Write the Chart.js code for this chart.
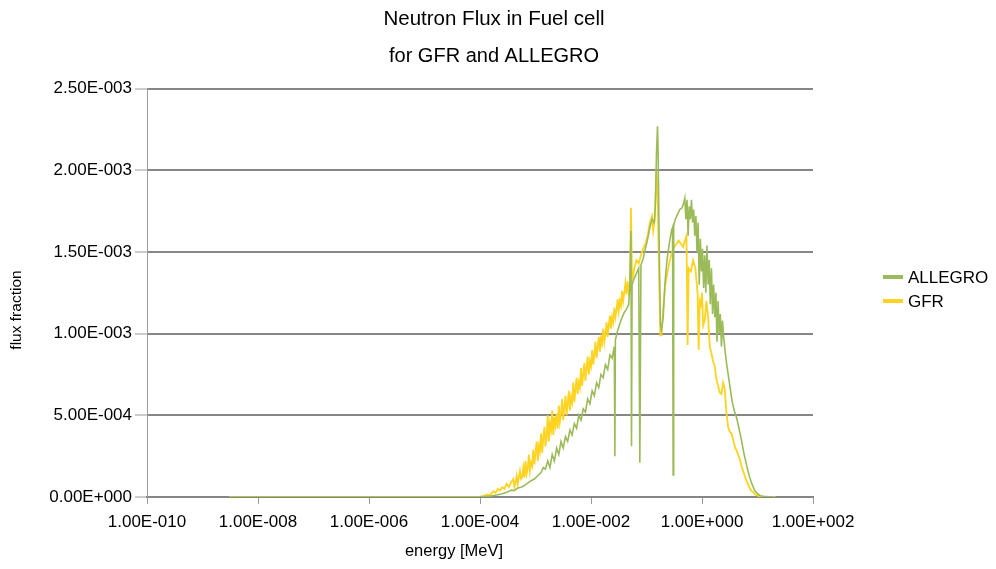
<!DOCTYPE html>
<html>
<head>
<meta charset="utf-8">
<script src="https://cdn.jsdelivr.net/npm/chart.js@4/dist/chart.umd.min.js"></script>
<style>
  body { margin: 0; background: #fff; }
  .chart-container { position: relative; width: 996px; height: 569px; }
</style>
</head>
<body>
<div class="chart-container"><canvas id="chart"></canvas></div>
<script>
// energy in MeV, flux fraction
const allegroEnergy = [
  3.02e-9, 1e-6, 6.31e-5, 1e-4, 1.58e-4, 2.00e-4, 2.51e-4, 3.16e-4, 3.63e-4, 4.17e-4,
  4.79e-4, 5.50e-4, 6.31e-4, 7.24e-4, 8.32e-4, 9.55e-4, 1.10e-3, 1.26e-3, 1.38e-3, 1.51e-3,
  1.66e-3, 1.82e-3, 2.00e-3, 2.19e-3, 2.40e-3, 2.63e-3, 2.88e-3, 3.16e-3, 3.47e-3, 3.80e-3,
  4.17e-3, 4.57e-3, 5.01e-3, 5.50e-3, 6.03e-3, 6.61e-3, 7.24e-3, 7.94e-3, 8.71e-3, 9.55e-3,
  1.05e-2, 1.15e-2, 1.26e-2, 1.38e-2, 1.51e-2, 1.66e-2, 1.82e-2, 2.00e-2, 2.19e-2, 2.40e-2,
  2.63e-2, 2.69e-2, 2.75e-2, 3.02e-2, 3.31e-2, 3.63e-2, 3.98e-2, 4.37e-2, 4.79e-2, 5.01e-2,
  5.25e-2, 5.37e-2, 5.50e-2, 6.03e-2, 6.61e-2, 7.24e-2, 7.59e-2, 7.94e-2, 8.71e-2, 9.55e-2,
  0.105, 0.115, 0.126, 0.138, 0.145, 0.151, 0.158, 0.162, 0.170, 0.178,
  0.186, 0.200, 0.214, 0.234, 0.257, 0.282, 0.295, 0.302, 0.309, 0.331,
  0.363, 0.398, 0.437, 0.468, 0.490, 0.513, 0.537, 0.562, 0.589, 0.617,
  0.646, 0.676, 0.708, 0.741, 0.776, 0.813, 0.851, 0.891, 0.933, 0.977,
  1.02, 1.07, 1.12, 1.17, 1.23, 1.29, 1.35, 1.41, 1.48, 1.55,
  1.62, 1.70, 1.78, 1.86, 1.95, 2.04, 2.14, 2.24, 2.34, 2.45,
  2.63, 2.82, 3.02, 3.24, 3.47, 3.80, 4.17, 4.57, 5.13, 5.75,
  6.31, 7.08, 7.94, 8.91, 10.0, 11.2, 14.1, 20.0
];
const allegroFlux = [
  0, 0, 0, 0.000001, 0.000006, 0.000012, 0.00002, 0.00003, 0.000042, 0.00004,
  0.000055, 0.00006, 0.00007, 0.000085, 0.0001, 0.00011, 0.00013, 0.00015, 0.00018, 0.00017,
  0.00022, 0.00018, 0.00026, 0.00022, 0.0003, 0.00026, 0.00034, 0.0003, 0.00037, 0.00034,
  0.00041, 0.00038, 0.00045, 0.00042, 0.0005, 0.00047, 0.00054, 0.00052, 0.0006, 0.00057,
  0.00065, 0.00062, 0.0007, 0.00067, 0.00075, 0.00073, 0.00081, 0.00078, 0.00087, 0.00085,
  0.00092, 0.00025, 0.00096, 0.00102, 0.00106, 0.0011, 0.00113, 0.00115, 0.00118, 0.0013,
  0.00163, 0.00031, 0.0013, 0.00134, 0.00137, 0.0014, 0.00021, 0.00142, 0.00146, 0.00152,
  0.00158, 0.00165, 0.0017, 0.00168, 0.0018, 0.0021, 0.00227, 0.0021, 0.0015, 0.00105,
  0.00102, 0.0011, 0.0013, 0.00145, 0.00155, 0.00163, 0.00165, 0.000135, 0.00166, 0.0017,
  0.00173, 0.00176, 0.00177, 0.0018, 0.00183, 0.0017, 0.00182, 0.0016, 0.00178, 0.0017,
  0.00182, 0.00168, 0.00176, 0.0016, 0.00172, 0.0015, 0.00168, 0.0013, 0.00158, 0.00138,
  0.00152, 0.00128, 0.00148, 0.00125, 0.00154, 0.0013, 0.00145, 0.00118, 0.0014, 0.00112,
  0.0013, 0.0011, 0.00125, 0.00095, 0.0012, 0.001, 0.00112, 0.00092, 0.00108, 0.00098,
  0.00088, 0.0008, 0.00073, 0.00066, 0.00059, 0.00053, 0.00049, 0.00043, 0.00035, 0.00026,
  0.0002, 0.00013, 0.00008, 0.00004, 0.00002, 0.000008, 0.000002, 0
];

const gfrEnergy = [
  3.02e-9, 1e-6, 5.01e-5, 1e-4, 1.15e-4, 1.32e-4, 1.51e-4, 1.74e-4, 1.91e-4, 2.09e-4,
  2.29e-4, 2.51e-4, 2.75e-4, 3.02e-4, 3.31e-4, 3.63e-4,
  3.98e-4, 4.17e-4, 4.37e-4, 4.57e-4, 4.79e-4, 5.01e-4, 5.25e-4, 5.50e-4, 5.75e-4, 6.03e-4,
  6.31e-4, 6.61e-4, 6.92e-4, 7.24e-4, 7.59e-4, 7.94e-4, 8.32e-4, 8.71e-4, 9.12e-4, 9.55e-4,
  1.00e-3, 1.05e-3, 1.10e-3, 1.15e-3, 1.20e-3, 1.26e-3, 1.32e-3, 1.38e-3, 1.45e-3, 1.51e-3,
  1.58e-3, 1.66e-3, 1.74e-3, 1.82e-3, 1.91e-3, 2.00e-3, 2.09e-3, 2.19e-3, 2.29e-3, 2.40e-3,
  2.51e-3, 2.63e-3, 2.75e-3, 2.88e-3, 3.02e-3, 3.16e-3, 3.31e-3, 3.47e-3, 3.63e-3, 3.80e-3,
  3.98e-3, 4.17e-3, 4.37e-3, 4.57e-3, 4.79e-3, 5.01e-3, 5.25e-3, 5.50e-3, 5.75e-3, 6.03e-3,
  6.31e-3, 6.61e-3, 6.92e-3, 7.24e-3, 7.59e-3, 7.94e-3, 8.32e-3, 8.71e-3, 9.12e-3, 9.55e-3,
  1.00e-2, 1.05e-2, 1.10e-2, 1.15e-2, 1.20e-2, 1.26e-2, 1.32e-2, 1.38e-2, 1.45e-2, 1.51e-2,
  1.58e-2, 1.66e-2, 1.74e-2, 1.82e-2, 1.91e-2, 2.00e-2, 2.09e-2, 2.19e-2, 2.29e-2, 2.40e-2,
  2.51e-2, 2.63e-2, 2.75e-2, 2.88e-2, 3.02e-2, 3.16e-2, 3.31e-2, 3.47e-2, 3.63e-2, 3.80e-2,
  3.98e-2, 4.17e-2, 4.37e-2, 4.57e-2, 4.79e-2, 5.01e-2,
  5.25e-2, 5.50e-2, 6.03e-2, 6.61e-2,
  7.24e-2, 7.94e-2, 8.71e-2, 9.55e-2, 0.105, 0.115, 0.126, 0.132, 0.141, 0.148,
  0.151, 0.158, 0.170, 0.178, 0.186, 0.200, 0.219, 0.240, 0.263, 0.288,
  0.316, 0.347, 0.380, 0.417, 0.457, 0.501, 0.525, 0.550, 0.575, 0.631,
  0.692, 0.759, 0.832, 0.871, 0.912, 0.955, 1.00, 1.05, 1.12, 1.20,
  1.29, 1.38, 1.48, 1.58, 1.70, 1.82, 1.95, 2.09, 2.24, 2.40,
  2.57, 2.75, 2.95, 3.16, 3.39, 3.63, 3.98, 4.37, 4.79, 5.25,
  5.75, 6.31, 6.92, 7.59, 8.32, 9.12, 10.5, 12.6, 20.9
];
const gfrFlux = [
  0, 0, 0, 0.000002, 0.000006, 0.000015, 0.00001, 0.000035, 0.000025, 0.00005,
  0.00004, 0.00006, 0.00005, 0.00008, 0.00006, 0.00009,
  0.00011, 0.00006, 0.00009, 0.00013, 0.00008, 0.00012, 0.00016, 0.00011, 0.00012, 0.00018,
  0.00012, 0.00022, 0.00014, 0.00017, 0.00026, 0.00016, 0.00021, 0.00019, 0.00029, 0.0002,
  0.00027, 0.00034, 0.00022, 0.00031, 0.00028, 0.00039, 0.00027, 0.00036, 0.00043, 0.00031,
  0.00036, 0.0005, 0.00034, 0.00045, 0.00041, 0.00053, 0.00038, 0.00049, 0.00044, 0.00051,
  0.00042, 0.00056, 0.00046, 0.00051, 0.0006, 0.00047, 0.00055, 0.00062, 0.0005, 0.00057,
  0.00065, 0.00053, 0.00061, 0.00058, 0.0007, 0.00058, 0.00066, 0.00073, 0.00063, 0.0007,
  0.00067, 0.00079, 0.00068, 0.00075, 0.00082, 0.00071, 0.00079, 0.00086, 0.00075, 0.00083,
  0.0008, 0.0009, 0.00081, 0.00087, 0.00095, 0.00085, 0.00092, 0.00098, 0.00089, 0.00097,
  0.00094, 0.00103, 0.00095, 0.001, 0.00107, 0.00098, 0.00105, 0.00111, 0.00103, 0.0011,
  0.00107, 0.00116, 0.0011, 0.00114, 0.00121, 0.00114, 0.0012, 0.00117, 0.00126, 0.0012,
  0.00125, 0.00131, 0.00124, 0.00132, 0.00126, 0.0013,
  0.00177, 0.00132, 0.0014, 0.00145,
  0.00143, 0.00148, 0.00152, 0.00155, 0.0016, 0.00168, 0.00172, 0.00163, 0.0017, 0.0019,
  0.00199, 0.0019, 0.0013, 0.00099, 0.00099, 0.00115, 0.0013, 0.00138, 0.00145, 0.0015,
  0.00153, 0.00155, 0.00157, 0.00155, 0.00153, 0.00158, 0.0016, 0.00093, 0.0014, 0.00138,
  0.00145, 0.0014, 0.00125, 0.0009, 0.0012, 0.00118, 0.00125, 0.00105, 0.00108, 0.0012,
  0.0011, 0.00092, 0.00088, 0.00083, 0.0008, 0.00072, 0.00068, 0.00064, 0.00063, 0.0007,
  0.00066, 0.00052, 0.00043, 0.0004, 0.00039, 0.00035, 0.0003, 0.00027, 0.00023, 0.00018,
  0.00014, 0.0001, 0.00007, 0.00004, 0.00003, 0.000015, 0.000006, 0.000002, 0
];

const xTickValues = [1e-10, 1e-8, 1e-6, 1e-4, 1e-2, 1, 100];

const FONT = "'Liberation Sans', Arial, sans-serif";

function sciLabel(v) {
  if (v === 0) return "0.00E+000";
  const e = Math.floor(Math.log10(Math.abs(v)) + 1e-9);
  const m = v / Math.pow(10, e);
  return m.toFixed(2) + "E" + (e < 0 ? "-" : "+") + String(Math.abs(e)).padStart(3, "0");
}

function toPoints(xs, ys) {
  return xs.map((x, i) => ({ x: x, y: ys[i] }));
}

// legend + axis titles drawn by hand, Excel puts them off-centre
const extras = {
  id: "extras",
  afterDraw(chart) {
    const ctx = chart.ctx;
    const area = chart.chartArea;
    ctx.save();
    ctx.fillStyle = "#000";
    ctx.textAlign = "center";
    ctx.textBaseline = "middle";
    ctx.font = "16.5px " + FONT;
    ctx.fillText("energy [MeV]", 454, 551);

    ctx.save();
    ctx.translate(17, 310);
    ctx.rotate(-Math.PI / 2);
    ctx.font = "15.5px " + FONT;
    ctx.fillText("flux fraction", 0, 0);
    ctx.restore();

    const x = area.right + 70;
    let y = 277;
    ctx.textAlign = "left";
    ctx.font = "17px " + FONT;
    chart.data.datasets.forEach((ds) => {
      ctx.fillStyle = ds.borderColor;
      ctx.fillRect(x, y - 2, 20, 4);
      ctx.fillStyle = "#000";
      ctx.fillText(ds.label, x + 25, y + 1);
      y += 24;
    });
    ctx.restore();
  }
};

const ctx = document.getElementById("chart").getContext("2d");
new Chart(ctx, {
  type: "line",
  data: {
    datasets: [
      {
        label: "ALLEGRO",
        data: toPoints(allegroEnergy, allegroFlux),
        borderColor: "#9BBB59",
        borderWidth: 1.6,
        pointRadius: 0,
        fill: false,
        tension: 0
      },
      {
        label: "GFR",
        data: toPoints(gfrEnergy, gfrFlux),
        borderColor: "#FFD320",
        borderWidth: 1.8,
        pointRadius: 0,
        fill: false,
        tension: 0
      }
    ]
  },
  options: {
    responsive: true,
    maintainAspectRatio: false,
    animation: false,
    layout: { padding: { left: 0, right: 8, top: 0, bottom: 0 } },
    plugins: {
      legend: { display: false },
      tooltip: { enabled: false },
      title: {
        display: true,
        text: "Neutron Flux in Fuel cell",
        color: "#000",
        font: { family: FONT, size: 20.5, weight: "normal" },
        padding: { top: 7, bottom: 0 }
      },
      subtitle: {
        display: true,
        text: "for GFR and ALLEGRO",
        color: "#000",
        font: { family: FONT, size: 20, weight: "normal" },
        padding: { top: 13, bottom: 20 }
      }
    },
    scales: {
      x: {
        type: "logarithmic",
        min: 1e-10,
        max: 100,
        afterBuildTicks: (scale) => {
          scale.ticks = xTickValues.map((v) => ({ value: v }));
        },
        afterFit: (scale) => { scale.height = 72; },
        ticks: {
          color: "#000",
          font: { family: FONT, size: 17 },
          padding: 8,
          maxRotation: 0,
          autoSkip: false,
          callback: (v) => sciLabel(v)
        },
        grid: {
          drawOnChartArea: false,
          tickLength: 7,
          tickColor: "#9a9a9a",
          color: "#9a9a9a"
        },
        border: { color: "#868686", width: 2 }
      },
      y: {
        min: 0,
        max: 0.0025,
        afterFit: (scale) => { scale.width = 147; },
        ticks: {
          stepSize: 0.0005,
          color: "#000",
          font: { family: FONT, size: 17 },
          padding: 3,
          callback: (v) => sciLabel(v)
        },
        grid: {
          color: "#868686",
          lineWidth: 2,
          tickLength: 12,
          tickColor: "#9a9a9a",
          tickWidth: 1
        },
        border: { color: "#9a9a9a", width: 1 }
      },
      // empty axis that keeps room for the legend on the right
      yRight: {
        position: "right",
        display: true,
        afterFit: (scale) => { scale.width = 175; },
        ticks: { display: false },
        grid: { display: false, drawTicks: false },
        border: { display: false }
      }
    }
  },
  plugins: [extras]
});
</script>
</body>
</html>
